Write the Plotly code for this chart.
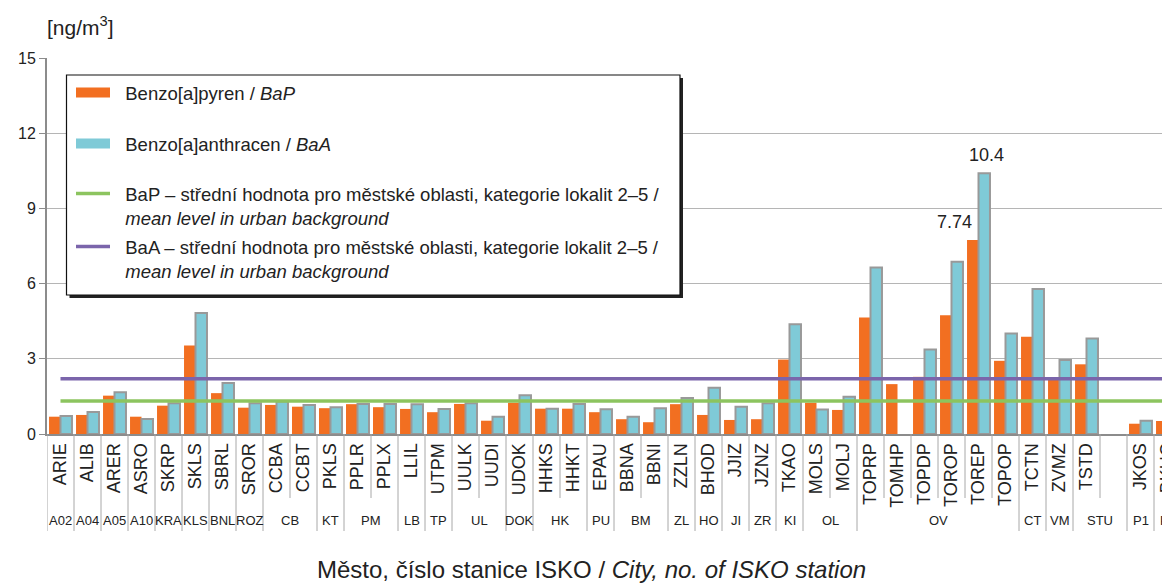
import plotly.graph_objects as go

# ---- data ----
stations = ["ARIE", "ALIB", "ARER", "ASRO", "SKRP", "SKLS", "SBRL", "SROR", "CCBA", "CCBT",
            "PKLS", "PPLR", "PPLX", "LLIL", "UTPM", "UULK", "UUDI", "UDOK", "HHKS", "HHKT",
            "EPAU", "BBNA", "BBNI", "ZZLN", "BHOD", "JJIZ", "JZNZ", "TKAO", "MOLS", "MOLJ",
            "TOPRP", "TOMHP", "TOPDP", "TOROP", "TOREP", "TOPOP", "TCTN", "ZVMZ", "TSTD", " ",
            "JKOS", "BKUC"]
bap = [0.69, 0.76, 1.53, 0.69, 1.13, 3.53, 1.63, 1.05, 1.16, 1.09,
       1.03, 1.19, 1.07, 1.00, 0.87, 1.20, 0.53, 1.25, 1.01, 1.01,
       0.87, 0.59, 0.47, 1.19, 0.76, 0.56, 0.59, 2.97, 1.25, 0.96,
       4.65, 1.99, 2.28, 4.74, 7.74, 2.92, 3.88, 2.22, 2.78, None,
       0.41, 0.52]
baa = [0.72, 0.88, 1.67, 0.60, 1.23, 4.83, 2.03, 1.23, 1.30, 1.16,
       1.07, 1.20, 1.20, 1.19, 1.00, 1.23, 0.69, 1.55, 1.01, 1.20,
       0.99, 0.69, 1.03, 1.44, 1.85, 1.09, 1.23, 4.38, 0.98, 1.49,
       6.64, None, 3.37, 6.87, 10.40, 4.01, 5.78, 2.95, 3.81, None,
       0.53, 0.61]
groups = ["A02", "A04", "A05", "A10", "KRA", "KLS", "BNL", "ROZ", "CB", "KT", "PM", "LB", "TP",
          "UL", "DOK", "HK", "PU", "BM", "ZL", "HO", "JI", "ZR", "KI", "OL", "OV", "CT", "VM",
          "STU", "P1", "P5"]
group_sizes = [1, 1, 1, 1, 1, 1, 1, 1, 2, 1, 2, 1, 1, 2, 1, 2, 1, 2, 1, 1, 1, 1, 1, 2, 6, 1, 1,
               2, 1, 1]
bap_mean = 1.32
baa_mean = 2.20
labelled = ["TOREP"]
legend_names = [
    "Benzo[a]pyren / <i>BaP</i>",
    "Benzo[a]anthracen / <i>BaA</i>",
    "BaP – střední hodnota pro městské oblasti, kategorie lokalit 2–5 /<br><i>mean level in urban background</i>",
    "BaA – střední hodnota pro městské oblasti, kategorie lokalit 2–5 /<br><i>mean level in urban background</i>",
]

# ---- style ----
FONT = "Liberation Sans, Arial, sans-serif"
ORANGE = "#F26F21"
BLUE = "#7FCAD7"
BLUE_EDGE = "#999999"
GREEN = "#8CC45F"
PURPLE = "#7B65AB"
SEP = "#a8a8a8"
OFF = 8                      # default page margin of the html body
W, H = 1170 - OFF, 585 - OFF
ML, MR, MT = 47 - OFF, 0, 58 - OFF
MB = H - (434 - OFF)
CAT_PX = 27.0
pw = W - ML - MR
ph = H - MT - MB


def px_x(p):
    return (p - OFF - ML) / pw


def px_y(p):
    return (H - MB - (p - OFF)) / ph


PAD = "\u00a0\u00a0"

fig = go.Figure()
fig.add_trace(go.Bar(x=stations, y=bap, marker=dict(color=ORANGE, line=dict(width=0)),
                     showlegend=False, name="BaP"))
fig.add_trace(go.Bar(x=stations, y=baa, marker=dict(color=BLUE, line=dict(color=BLUE_EDGE, width=2)),
                     showlegend=False, name="BaA"))


def lname(s):
    return "<br>".join(PAD + part for part in s.split("<br>"))


# legend entries (one legend per entry so each row sits where the reference has it)
fig.add_trace(go.Scatter(x=[None], y=[None], mode="lines", line=dict(color=ORANGE, width=10),
                         name=lname(legend_names[0]), legend="legend"))
fig.add_trace(go.Scatter(x=[None], y=[None], mode="lines", line=dict(color=BLUE, width=10),
                         name=lname(legend_names[1]), legend="legend2"))
fig.add_trace(go.Scatter(x=[stations[0], stations[-1]], y=[bap_mean, bap_mean], mode="lines",
                         line=dict(color=GREEN, width=3.5), legend="legend3",
                         name=lname(legend_names[2])))
fig.add_trace(go.Scatter(x=[stations[0], stations[-1]], y=[baa_mean, baa_mean], mode="lines",
                         line=dict(color=PURPLE, width=3.5), legend="legend4",
                         name=lname(legend_names[3])))

shapes = []
annotations = []

# category separators and group labels
y_short = px_y(498)
y_long = px_y(531)
start = 0
for g, n in zip(groups, group_sizes):
    shapes.append(dict(type="line", xref="x", yref="paper", x0=start - 0.5, x1=start - 0.5,
                       y0=0, y1=y_long, line=dict(color=SEP, width=1)))
    for k in range(1, n):
        shapes.append(dict(type="line", xref="x", yref="paper", x0=start + k - 0.5, x1=start + k - 0.5,
                           y0=0, y1=y_short, line=dict(color=SEP, width=1)))
    annotations.append(dict(text=g, xref="x", yref="paper", x=start + (n - 1) / 2, y=px_y(520),
                            showarrow=False, xanchor="center", yanchor="middle",
                            font=dict(size=13, color="#222", family=FONT)))
    start += n
shapes.append(dict(type="line", xref="x", yref="paper", x0=start - 0.5, x1=start - 0.5,
                   y0=0, y1=y_long, line=dict(color=SEP, width=1)))

# legend box with shadow
lx0, ly0, lx1, ly1 = 66.5, 75, 680, 295
shapes.append(dict(type="rect", xref="paper", yref="paper", layer="above",
                   x0=px_x(lx0 + 3), x1=px_x(lx1 + 3), y0=px_y(ly1 + 3), y1=px_y(ly0 + 3),
                   fillcolor="#222", line=dict(width=0)))
shapes.append(dict(type="rect", xref="paper", yref="paper", layer="above",
                   x0=px_x(lx0), x1=px_x(lx1), y0=px_y(ly1), y1=px_y(ly0),
                   fillcolor="white", line=dict(color="#111", width=1.2)))

# value labels
for st in labelled:
    i = stations.index(st)
    annotations.append(dict(text=f"{bap[i]:g}", xref="x", yref="y", x=st, y=bap[i],
                            xanchor="right", yanchor="bottom", xshift=-5, yshift=6, showarrow=False,
                            font=dict(size=18, color="#222", family=FONT)))
    annotations.append(dict(text=f"{baa[i]:g}", xref="x", yref="y", x=st, y=baa[i],
                            xanchor="center", yanchor="bottom", xshift=8, yshift=6, showarrow=False,
                            font=dict(size=18, color="#222", family=FONT)))

# unit & axis title
annotations.append(dict(text="[ng/m<sup>3</sup>]", xref="paper", yref="paper", x=px_x(45), y=px_y(26),
                        xanchor="left", yanchor="middle", showarrow=False,
                        font=dict(size=21, color="#222", family=FONT)))
annotations.append(dict(text="Město, číslo stanice ISKO / <i>City, no. of ISKO station</i>",
                        xref="paper", yref="paper", x=px_x(591), y=px_y(569),
                        xanchor="center", yanchor="middle", showarrow=False,
                        font=dict(size=24, color="#222", family=FONT)))

leg_common = dict(xanchor="left", yanchor="middle", bgcolor="rgba(0,0,0,0)", borderwidth=0,
                  itemwidth=34, valign="top", font=dict(size=18.5, color="#222", family=FONT))
leg_x = px_x(71)

fig.update_layout(
    width=W, height=H,
    margin=dict(l=ML, r=MR, t=MT, b=MB, autoexpand=False),
    paper_bgcolor="white", plot_bgcolor="white",
    barmode="group", bargap=0.15, bargroupgap=0,
    font=dict(family=FONT, color="#222"),
    showlegend=True,
    legend=dict(x=leg_x, y=px_y(93), **leg_common),
    legend2=dict(x=leg_x, y=px_y(144), **leg_common),
    legend3=dict(x=leg_x, y=px_y(206), **leg_common),
    legend4=dict(x=leg_x, y=px_y(259), **leg_common),
    shapes=shapes, annotations=annotations,
    xaxis=dict(type="category", categoryorder="array", categoryarray=stations,
               range=[-0.5, -0.5 + pw / CAT_PX], tickangle=-90, ticks="",
               tickfont=dict(size=18, color="#222", family=FONT),
               showline=True, linecolor="#8c8c8c", linewidth=2, showgrid=False,
               fixedrange=True),
    yaxis=dict(range=[0, 15], dtick=3, tick0=0, showgrid=True, gridcolor="#b5b5b5", gridwidth=1,
               showline=True, linecolor="#8c8c8c", linewidth=2, ticks="outside", ticklen=6,
               tickcolor="#8c8c8c", zeroline=False,
               tickfont=dict(size=16, color="#222", family=FONT)),
)

fig.write_html("out.html")
